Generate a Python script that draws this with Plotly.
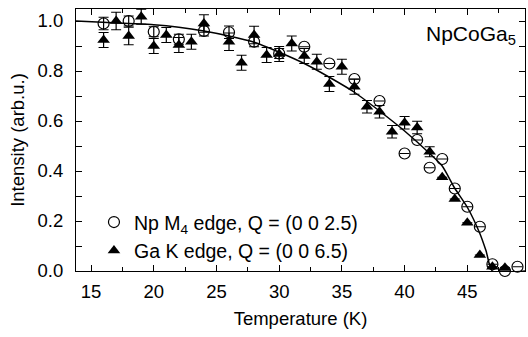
import plotly.graph_objects as go

# Np M4 edge, Q = (0 0 2.5)
T_np = [16, 18, 20, 22, 24, 26, 28, 30, 32, 34, 36, 38, 40, 41, 42, 43, 44, 45, 46, 47, 48, 49]
I_np = [0.99, 1.0, 0.957, 0.927, 0.96, 0.955, 0.917, 0.87, 0.897, 0.83, 0.768, 0.68, 0.47, 0.524,
        0.413, 0.448, 0.33, 0.257, 0.177, 0.027, 0.0, 0.017]
E_np = [0.025, 0.02, 0.02, 0.02, 0.02, 0.025, 0.02, 0.02, 0, 0, 0, 0, 0, 0, 0, 0, 0, 0, 0, 0, 0, 0]

# Ga K edge, Q = (0 0 6.5)
T_ga = [16, 17, 18, 19, 20, 21, 22, 23, 24, 26, 27, 28, 29, 30, 31, 32, 33, 34, 35, 36, 37, 38,
        39, 40, 41, 42, 43, 44, 45, 46, 47, 48]
I_ga = [0.924, 1.0, 0.94, 1.017, 0.90, 0.944, 0.904, 0.917, 0.99, 0.917, 0.833, 0.944, 0.864,
        0.868, 0.91, 0.86, 0.837, 0.748, 0.817, 0.737, 0.657, 0.637, 0.557, 0.593, 0.574, 0.477,
        0.375, 0.288, 0.193, 0.064, 0.017, 0.013]
E_ga = [0.03, 0.035, 0.035, 0.03, 0.03, 0.03, 0.03, 0.03, 0.035, 0.035, 0.03, 0.035, 0.03, 0.03,
        0.03, 0.03, 0.03, 0.03, 0.03, 0.03, 0.025, 0.025, 0.025, 0.025, 0.025, 0.02,
        0, 0, 0, 0, 0, 0]

# Fit curve
T_fit = [13.8, 18, 20, 22, 24, 26, 28, 30, 32, 34, 36, 38, 40, 42, 43, 44, 45, 46, 46.5, 47.0, 49.6]
I_fit = [1.0, 0.99, 0.985, 0.975, 0.96, 0.94, 0.915, 0.875, 0.83, 0.775, 0.715, 0.64, 0.56, 0.47,
         0.42, 0.331, 0.255, 0.15, 0.08, 0.0, 0.0]

FONT = "Liberation Sans, Arial, sans-serif"

fig = go.Figure()
fig.add_trace(go.Scatter(x=T_fit, y=I_fit, mode="lines", line=dict(color="black", width=1.5, shape="spline", smoothing=0.6),
                         showlegend=False, hoverinfo="skip"))
fig.add_trace(go.Scatter(
    x=T_np, y=I_np, mode="markers", name="Np M<sub>4</sub> edge, Q = (0 0 2.5)",
    marker=dict(symbol="circle-open", size=11, color="black", line=dict(width=1.2)),
    error_y=dict(type="data", array=E_np, color="black", thickness=1.2, width=5),
    cliponaxis=False))
fig.add_trace(go.Scatter(
    x=T_ga, y=I_ga, mode="markers", name="Ga K edge, Q = (0 0 6.5)",
    marker=dict(symbol="triangle-up", size=11, color="black"),
    error_y=dict(type="data", array=E_ga, color="black", thickness=1.2, width=5),
    cliponaxis=False))

fig.add_annotation(x=0.985, y=0.9, xref="paper", yref="paper", xanchor="right", yanchor="middle",
                   text="NpCoGa<sub>5</sub>", showarrow=False, font=dict(size=21, color="black", family=FONT))

axis_common = dict(showline=True, linecolor="black", linewidth=1, mirror="allticks", ticks="inside",
                   ticklen=6, tickcolor="black", showgrid=False, zeroline=False,
                   tickfont=dict(size=18.5, color="black", family=FONT))
fig.update_xaxes(range=[13.8, 49.6], tick0=15, dtick=5, ticklabelstandoff=4,
                 minor=dict(dtick=2.5, tick0=15, ticks="inside", ticklen=4, tickcolor="black"),
                 title=dict(text="Temperature (K)", font=dict(size=18.5, color="black", family=FONT), standoff=10),
                 **axis_common)
fig.update_yaxes(range=[0, 1.048], tick0=0, dtick=0.2, tickformat=".1f", ticklabelstandoff=8,
                 minor=dict(dtick=0.1, tick0=0, ticks="inside", ticklen=6, tickcolor="black"),
                 title=dict(text="Intensity (arb.u.)", font=dict(size=18.5, color="black", family=FONT), standoff=8),
                 **axis_common)

fig.update_layout(
    width=528, height=337,
    margin=dict(l=76, r=3, t=9, b=66),
    paper_bgcolor="white", plot_bgcolor="white",
    font=dict(family=FONT, color="black", size=18),
    legend=dict(x=0.04, y=0.26, xanchor="left", yanchor="top", bgcolor="rgba(0,0,0,0)",
                font=dict(size=19.5, family=FONT), tracegroupgap=0),
)

fig.write_html("out.html", config={"displayModeBar": False},
               post_script="document.body.style.margin='0';")
